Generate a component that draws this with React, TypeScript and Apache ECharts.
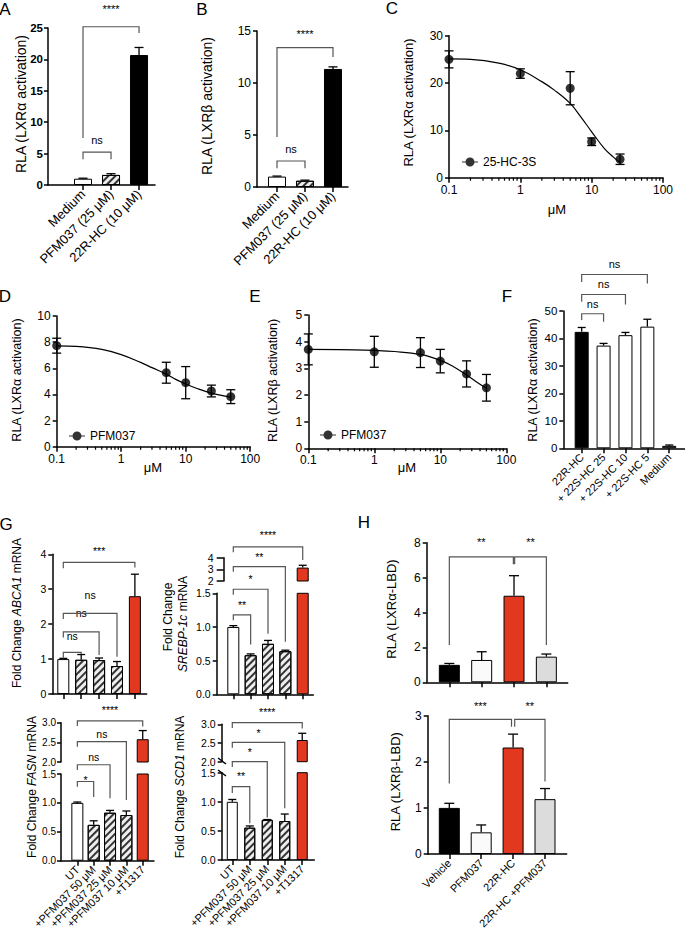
import React, { useEffect, useRef } from "react";
import * as echarts from "echarts";

const FONT = "Liberation Sans, Arial, Helvetica, sans-serif";
const RED = "#e2381f";

// ---------- Panel A ----------
const A_CATEGORIES = ["Medium", "PFM037 (25 μM)", "22R-HC (10 μM)"];
const A_VALUES = [1.0, 1.6, 20.7];
const A_ERRORS = [0.08, 0.2, 1.2];
// [from, to, top, leftLegEnd, rightLegEnd, labelY]
const A_BRACKETS = [
  [0, 1, 5.25, 4.1, 4.1, 7.2],
  [0, 2, 25.2, 7.5, 24.2, 28.0],
];
const A_SIG = ["ns", "****"];

// ---------- Panel B ----------
const B_CATEGORIES = ["Medium", "PFM037 (25 μM)", "22R-HC (10 μM)"];
const B_VALUES = [1.0, 0.6, 11.35];
const B_ERRORS = [0.05, 0.06, 0.2];
const B_BRACKETS = [
  [0, 1, 2.5, 1.8, 1.8, 3.65],
  [0, 2, 13.4, 4.8, 12.5, 14.7],
];
const B_SIG = ["ns", "****"];

// ---------- Panel C ----------
const C_DOSE = [0.1, 1, 5, 10, 25];
const C_MEAN = [25.0, 22.0, 18.9, 7.6, 3.9];
const C_ERR = [1.8, 1.0, 3.5, 0.8, 1.1];
const C_FIT_DOSE = [0.1, 0.2, 0.5, 1, 2, 3, 5, 7, 10, 15, 20, 25];
const C_FIT_VALUE = [25.1, 25.0, 24.2, 22.8, 20.3, 18.5, 15.7, 12.9, 9.7, 6.2, 4.4, 3.2];

// ---------- Panel D ----------
const D_DOSE = [0.1, 5, 10, 25, 50];
const D_MEAN = [7.73, 5.66, 4.9, 4.26, 3.83];
const D_ERR = [0.57, 0.8, 1.23, 0.45, 0.53];
const D_FIT_DOSE = [0.1, 0.2, 0.5, 1, 2, 3, 5, 7, 10, 15, 25, 50];
const D_FIT_VALUE = [7.72, 7.68, 7.45, 7.05, 6.45, 6.05, 5.55, 5.15, 4.8, 4.45, 4.1, 3.8];

// ---------- Panel E ----------
const E_DOSE = [0.1, 1, 5, 10, 25, 50];
const E_MEAN = [3.71, 3.62, 3.59, 3.27, 2.79, 2.27];
const E_ERR = [0.58, 0.58, 0.56, 0.44, 0.49, 0.5];
const E_FIT_DOSE = [0.1, 0.5, 1, 2, 5, 10, 15, 25, 35, 50];
const E_FIT_VALUE = [3.71, 3.69, 3.67, 3.63, 3.52, 3.3, 3.1, 2.75, 2.5, 2.25];

const LOG_MINOR = [0.2, 0.3, 0.4, 0.5, 0.6, 0.7, 0.8, 0.9, 2, 3, 4, 5, 6, 7, 8, 9, 20, 30, 40, 50, 60, 70, 80, 90];

// ---------- Panel F ----------
const F_CATEGORIES = ["22R-HC", "+ 22S-HC 25", "+ 22S-HC 10", "+ 22S-HC 5", "Medium"];
const F_VALUES = [42.4, 37.4, 41.2, 44.3, 0.9];
const F_ERRORS = [1.6, 0.8, 1.0, 2.7, 0.3];
const F_BRACKETS = [
  [0, 1, 49.0, 46.7, 46.1, 52.6],
  [0, 2, 56.0, 53.4, 52.4, 59.8],
  [0, 3, 63.3, 60.6, 60.0, 67.0],
];
const F_SIG = ["ns", "ns", "ns"];

// ---------- Panel G ----------
const G_CATEGORIES = ["UT", "+PFM037 50 μM", "+PFM037 25 μM", "+PFM037 10 μM", "+T1317"];
const ABCA1_VALUES = [1.0, 0.98, 0.97, 0.8, 2.8];
const ABCA1_ERRORS = [0.02, 0.15, 0.06, 0.13, 0.63];
const ABCA1_BRACKETS = [
  [0, 1, 1.19, 1.02, 1.14, 1.67],
  [0, 2, 1.78, 1.62, 1.12, 2.31],
  [0, 3, 2.31, 2.15, 1.07, 2.84],
  [0, 4, 3.77, 3.6, 3.62, 4.1],
];
const ABCA1_SIG = ["ns", "ns", "ns", "***"];

const SREBP_VALUES = [1.0, 0.58, 0.75, 0.64, 3.15];
const SREBP_ERRORS = [0.02, 0.02, 0.05, 0.015, 0.2];
const SREBP_BRACKETS = [
  [0, 1, 1.18, 1.1, 0.74, 1.33],
  [0, 2, 1.56, 1.48, 0.9, 1.71],
  [0, 3, 1.896, 1.82, 0.78, 2.04],
  [0, 4, 2.19, 2.11, 1.995, 2.36],
];
const SREBP_SIG = ["**", "*", "**", "****"];

const FASN_VALUES = [1.0, 0.62, 0.83, 0.79, 2.58];
const FASN_ERRORS = [0.015, 0.07, 0.04, 0.07, 0.22];
const FASN_BRACKETS = [
  [0, 1, 1.37, 1.28, 1.1, 1.4],
  [0, 2, 1.66, 1.57, 1.08, 1.8],
  [0, 3, 2.06, 1.97, 1.05, 2.2],
  [0, 4, 2.42, 2.33, 2.32, 2.6],
];
const FASN_SIG = ["*", "ns", "ns", "****"];

const SCD1_VALUES = [1.0, 0.555, 0.69, 0.67, 2.58];
const SCD1_ERRORS = [0.04, 0.03, 0.005, 0.12, 0.18];
const SCD1_BRACKETS = [
  [0, 1, 1.26, 1.15, 0.63, 1.44],
  [0, 2, 1.69, 1.6, 0.73, 1.86],
  [0, 3, 2.02, 1.93, 0.89, 2.18],
  [0, 4, 2.36, 2.27, 2.26, 2.55],
];
const SCD1_SIG = ["**", "*", "*", "****"];

// ---------- Panel H ----------
const H_CATEGORIES = ["Vehicle", "PFM037", "22R-HC", "22R-HC +PFM037"];
const H_ALPHA_VALUES = [1.0, 1.28, 4.96, 1.47];
const H_ALPHA_ERRORS = [0.08, 0.47, 1.15, 0.15];
const H_ALPHA_BRACKETS = [
  [0, 1.98, 7.19, 2.14, 6.76, 8.04],
  [2.02, 3, 7.19, 6.76, 2.14, 8.04],
];
const H_ALPHA_SIG = ["**", "**"];
const H_BETA_VALUES = [1.0, 0.47, 2.31, 1.19];
const H_BETA_ERRORS = [0.1, 0.16, 0.29, 0.23];
const H_BETA_BRACKETS = [
  [0, 1.95, 2.92, 1.53, 2.76, 3.22],
  [2.05, 3, 2.92, 2.76, 1.57, 3.22],
];
const H_BETA_SIG = ["***", "**"];

const AX = { color: "#000", width: 1.5 };
const BORDER = { borderColor: "#000", borderWidth: 1 };
const WHITE = { color: "#ffffff", ...BORDER };
const OFFWHITE = { color: "#fafafa", ...BORDER };
const BLACK = { color: "#000000", ...BORDER };
const LIGHTGRAY = { color: "#dcdcdc", ...BORDER };
const DARKGRAY = { color: "#555555", ...BORDER };
const REDBAR = { color: RED, ...BORDER };
const HATCH = {
  color: "#eeeeee",
  ...BORDER,
  decal: {
    symbol: "rect",
    symbolSize: 1,
    dashArrayX: [1, 0],
    dashArrayY: [1.4, 2.2],
    rotation: -Math.PI / 4,
    color: "#333333",
  },
};

const LEG_ICON =
  "path://M0,3.9L16,3.9L16,5.1L0,5.1Z M12.5,4.5A4.5,4.5,0,1,1,3.5,4.5A4.5,4.5,0,1,1,12.5,4.5Z";

function buildOption() {
  const grid: any[] = [];
  const xAxis: any[] = [];
  const yAxis: any[] = [];
  const series: any[] = [];
  const legend: any[] = [];
  const graphic: any[] = [];

  const addGrid = (r: any, x: any, y: any) => {
    const i = grid.length;
    grid.push({ ...r, containLabel: false });
    xAxis.push({ gridIndex: i, ...x });
    yAxis.push({ gridIndex: i, ...y });
    return i;
  };

  const catX = (names: string[], min: number, max: number, labels: boolean, fontSize: number, show = true) => {
    const pos = names.map((_, k) => k);
    return {
      type: "value",
      min,
      max,
      show,
      splitLine: { show: false },
      axisLine: { show: true, onZero: false, lineStyle: AX },
      axisTick: { show: true, length: 5, lineStyle: AX, customValues: pos },
      axisLabel: {
        show: labels,
        customValues: pos,
        rotate: 45,
        fontSize,
        color: "#000",
        fontFamily: FONT,
        margin: 7,
        formatter: (v: number) => names[Math.round(v)] ?? "",
      },
    };
  };

  const valY = (min: number, max: number, interval: number, fontSize: number, fmt?: any, extra: any = {}) => ({
    type: "value",
    min,
    max,
    interval,
    splitLine: { show: false },
    axisLine: { show: true, onZero: false, lineStyle: AX },
    axisTick: { show: true, length: 4, lineStyle: AX, ...(extra.tick || {}) },
    axisLabel: {
      fontSize,
      color: "#000",
      fontFamily: FONT,
      margin: extra.margin ?? 6,
      fontWeight: extra.bold ? "bold" : "normal",
      formatter: fmt,
    },
    offset: extra.offset ?? 0,
  });

  const logX = (fontSize: number) => ({
    type: "log",
    logBase: 10,
    min: 0.1,
    max: 100,
    splitLine: { show: false },
    axisLine: { show: true, onZero: false, lineStyle: AX },
    axisTick: { show: true, length: 5, lineStyle: AX },
    axisLabel: {
      fontSize,
      color: "#000",
      fontFamily: FONT,
      margin: 6,
      formatter: (v: number) => (v < 1 ? v.toFixed(1) : String(Math.round(v))),
    },
  });

  const bars = (gi: number, idx: number[], values: number[], styles: any[], width: number) => {
    series.push({
      type: "bar",
      xAxisIndex: gi,
      yAxisIndex: gi,
      barWidth: width,
      clip: true,
      z: 2,
      data: idx.map((k) => ({ value: [k, values[k]], itemStyle: styles[k] })),
    });
  };

  const errBars = (gi: number, xs: number[], means: number[], errs: number[], cap: number, both: boolean) => {
    series.push({
      type: "custom",
      xAxisIndex: gi,
      yAxisIndex: gi,
      silent: true,
      z: 3,
      encode: { x: 0, y: 1 },
      data: xs.map((x, k) => [x, means[k], errs[k]]),
      renderItem: (params: any, api: any) => {
        const x = api.value(0);
        const m = api.value(1);
        const e = api.value(2);
        const top = api.coord([x, m + e]);
        const bot = api.coord([x, both ? m - e : m]);
        const st = { stroke: "#000", lineWidth: 1.3, fill: "none" };
        const children: any[] = [
          { type: "line", shape: { x1: top[0], y1: top[1], x2: bot[0], y2: bot[1] }, style: st },
          { type: "line", shape: { x1: top[0] - cap / 2, y1: top[1], x2: top[0] + cap / 2, y2: top[1] }, style: st },
        ];
        if (both) {
          children.push({
            type: "line",
            shape: { x1: bot[0] - cap / 2, y1: bot[1], x2: bot[0] + cap / 2, y2: bot[1] },
            style: st,
          });
        }
        return { type: "group", children };
      },
    });
  };

  const brackets = (gi: number, list: number[][], labels: string[], fontSize: number) => {
    series.push({
      type: "custom",
      xAxisIndex: gi,
      yAxisIndex: gi,
      silent: true,
      z: 4,
      encode: { x: 0, y: 2 },
      data: list,
      renderItem: (params: any, api: any) => {
        const x1 = api.value(0);
        const x2 = api.value(1);
        const yt = api.value(2);
        const yl = api.value(3);
        const yr = api.value(4);
        const ylab = api.value(5);
        const a = api.coord([x1, yl]);
        const b = api.coord([x1, yt]);
        const c = api.coord([x2, yt]);
        const d = api.coord([x2, yr]);
        const t = api.coord([(x1 + x2) / 2, ylab]);
        return {
          type: "group",
          children: [
            {
              type: "polyline",
              shape: { points: [a, b, c, d] },
              style: { stroke: "#555", fill: "none", lineWidth: 1.2 },
            },
            {
              type: "text",
              x: t[0],
              y: t[1],
              style: {
                text: labels[params.dataIndex],
                fill: "#000",
                fontSize,
                fontFamily: FONT,
                align: "center",
                verticalAlign: "middle",
                textAlign: "center",
                textVerticalAlign: "middle",
              },
            },
          ],
        };
      },
    });
  };

  const doseResponse = (
    gi: number,
    name: string,
    dose: number[],
    mean: number[],
    err: number[],
    fitDose: number[],
    fitValue: number[]
  ) => {
    series.push({
      type: "line",
      xAxisIndex: gi,
      yAxisIndex: gi,
      smooth: 0.4,
      symbol: "none",
      silent: true,
      z: 2,
      lineStyle: { color: "#000", width: 1.2 },
      data: fitDose.map((d, k) => [d, fitValue[k]]),
    });
    errBars(gi, dose, mean, err, 9, true);
    series.push({
      type: "scatter",
      name,
      xAxisIndex: gi,
      yAxisIndex: gi,
      symbolSize: 9,
      z: 5,
      itemStyle: { color: "#000" },
      data: dose.map((d, k) => [d, mean[k]]),
    });
    series.push({
      type: "custom",
      xAxisIndex: gi,
      yAxisIndex: gi,
      silent: true,
      z: 3,
      data: LOG_MINOR.map((v) => [v, 0]),
      renderItem: (params: any, api: any) => {
        const p = api.coord([api.value(0), api.value(1)]);
        return {
          type: "line",
          shape: { x1: p[0], y1: p[1], x2: p[0], y2: p[1] + 3 },
          style: { stroke: "#000", lineWidth: 1.2 },
        };
      },
    });
  };

  const addLegend = (name: string, left: number, top: number) => {
    legend.push({
      data: [{ name, icon: LEG_ICON }],
      left,
      top,
      padding: 0,
      itemWidth: 16,
      itemHeight: 9,
      selectedMode: false,
      textStyle: { fontSize: 12, fontFamily: FONT, color: "#000" },
    });
  };

  const text = (t: string, x: number, y: number, fontSize: number, rotate = false, rich?: any) => {
    graphic.push({
      type: "text",
      x,
      y,
      rotation: rotate ? Math.PI / 2 : 0,
      silent: true,
      style: {
        text: t,
        fill: "#000",
        fontSize,
        fontFamily: FONT,
        align: "center",
        verticalAlign: "middle",
        textAlign: "center",
        textVerticalAlign: "middle",
        rich,
      },
    });
  };
  const italic = (fs: number) => ({ i: { fontStyle: "italic", fontSize: fs, fontFamily: FONT, fill: "#000" } });

  // ---- A ----
  const gA = addGrid(
    { left: 48, top: 28, width: 107, height: 157 },
    catX(A_CATEGORIES, -1.25, 2.57, true, 13),
    valY(0, 25, 5, 11.5, undefined, { bold: true, margin: 5 })
  );
  bars(gA, [0, 1, 2], A_VALUES, [WHITE, HATCH, BLACK], 18);
  errBars(gA, [0, 1, 2], A_VALUES, A_ERRORS, 9, false);
  brackets(gA, A_BRACKETS, A_SIG, 11);

  // ---- B ----
  const gB = addGrid(
    { left: 257, top: 31, width: 91, height: 156 },
    catX(B_CATEGORIES, -0.714, 2.536, true, 13),
    valY(0, 15, 5, 12)
  );
  bars(gB, [0, 1, 2], B_VALUES, [WHITE, HATCH, BLACK], 18);
  errBars(gB, [0, 1, 2], B_VALUES, B_ERRORS, 9, false);
  brackets(gB, B_BRACKETS, B_SIG, 11);

  // ---- C ----
  const gC = addGrid({ left: 449, top: 35.7, width: 214, height: 142 }, logX(12), valY(0, 30, 10, 12));
  doseResponse(gC, "25-HC-3S", C_DOSE, C_MEAN, C_ERR, C_FIT_DOSE, C_FIT_VALUE);
  addLegend("25-HC-3S", 462, 156);

  // ---- D ----
  const gD = addGrid({ left: 56.7, top: 316, width: 193.5, height: 130.7 }, logX(12), valY(0, 10, 2, 12));
  doseResponse(gD, "PFM037", D_DOSE, D_MEAN, D_ERR, D_FIT_DOSE, D_FIT_VALUE);
  addLegend("PFM037", 69, 430);

  // ---- E ----
  const gE = addGrid({ left: 308.3, top: 315, width: 198, height: 133.3 }, logX(12), valY(0, 5, 1, 12));
  doseResponse(gE, "PFM037", E_DOSE, E_MEAN, E_ERR, E_FIT_DOSE, E_FIT_VALUE);
  addLegend("PFM037", 320, 429);

  // ---- F ----
  const gF = addGrid(
    { left: 563.3, top: 311, width: 121.7, height: 137.3 },
    catX(F_CATEGORIES, -0.84, 4.72, true, 11),
    valY(0, 50, 10, 11.5)
  );
  bars(gF, [0, 1, 2, 3, 4], F_VALUES, [BLACK, WHITE, WHITE, WHITE, DARKGRAY], 14);
  errBars(gF, [0, 1, 2, 3, 4], F_VALUES, F_ERRORS, 8, false);
  brackets(gF, F_BRACKETS, F_SIG, 11);

  // ---- G: ABCA1 ----
  const G_STYLES = [WHITE, HATCH, HATCH, HATCH, REDBAR];
  const fmt1 = (v: number) => v.toFixed(1);
  const gG1 = addGrid(
    { left: 52.3, top: 554.3, width: 94.4, height: 139.7 },
    catX(G_CATEGORIES, -0.615, 4.66, false, 11),
    valY(0, 4, 1, 10.5)
  );
  bars(gG1, [0, 1, 2, 3, 4], ABCA1_VALUES, G_STYLES, 12);
  errBars(gG1, [0, 1, 2, 3, 4], ABCA1_VALUES, ABCA1_ERRORS, 8, false);
  brackets(gG1, ABCA1_BRACKETS, ABCA1_SIG, 10.5);

  // ---- G: SREBP-1c (broken axis) ----
  const gG2 = addGrid(
    { left: 216.7, top: 593.3, width: 96.6, height: 101 },
    catX(G_CATEGORIES, -0.957, 4.61, false, 11),
    valY(0, 1.5, 0.5, 10.5, fmt1)
  );
  const gG2u = addGrid(
    { left: 216.7, top: 557.7, width: 96.6, height: 23.3 },
    catX(G_CATEGORIES, -0.957, 4.61, false, 11, false),
    valY(2, 4, 1, 10.5, undefined, { offset: -7, margin: 10, tick: { length: 7 } })
  );
  bars(gG2, [0, 1, 2, 3, 4], SREBP_VALUES, G_STYLES, 12);
  bars(gG2u, [4], SREBP_VALUES, G_STYLES, 12);
  errBars(gG2, [0, 1, 2, 3], SREBP_VALUES.slice(0, 4), SREBP_ERRORS.slice(0, 4), 8, false);
  errBars(gG2u, [4], SREBP_VALUES.slice(4), SREBP_ERRORS.slice(4), 8, false);
  brackets(gG2, SREBP_BRACKETS, SREBP_SIG, 10.5);

  // ---- G: FASN (broken axis) ----
  const gG3 = addGrid(
    { left: 61, top: 774, width: 93, height: 86.7 },
    catX(G_CATEGORIES, -1.0, 4.69, true, 11),
    valY(0, 1.5, 0.5, 10, fmt1, { margin: 5 })
  );
  const gG3u = addGrid(
    { left: 61, top: 722.7, width: 93, height: 39.3 },
    catX(G_CATEGORIES, -1.0, 4.69, false, 11, false),
    valY(2, 3, 0.5, 10, fmt1, { margin: 5 })
  );
  bars(gG3, [0, 1, 2, 3, 4], FASN_VALUES, G_STYLES, 12);
  bars(gG3u, [4], FASN_VALUES, G_STYLES, 12);
  errBars(gG3, [0, 1, 2, 3], FASN_VALUES.slice(0, 4), FASN_ERRORS.slice(0, 4), 8, false);
  errBars(gG3u, [4], FASN_VALUES.slice(4), FASN_ERRORS.slice(4), 8, false);
  brackets(gG3, FASN_BRACKETS, FASN_SIG, 10.5);

  // ---- G: SCD1 (broken axis) ----
  const gG4 = addGrid(
    { left: 221.7, top: 772.7, width: 92.6, height: 87.3 },
    catX(G_CATEGORIES, -0.606, 4.69, true, 11),
    valY(0, 1.5, 0.5, 10.5, fmt1)
  );
  const gG4u = addGrid(
    { left: 221.7, top: 724.3, width: 92.6, height: 37.4 },
    catX(G_CATEGORIES, -0.606, 4.69, false, 11, false),
    valY(2, 3, 0.5, 10.5, fmt1)
  );
  bars(gG4, [0, 1, 2, 3, 4], SCD1_VALUES, G_STYLES, 11);
  bars(gG4u, [4], SCD1_VALUES, G_STYLES, 11);
  errBars(gG4, [0, 1, 2, 3], SCD1_VALUES.slice(0, 4), SCD1_ERRORS.slice(0, 4), 8, false);
  errBars(gG4u, [4], SCD1_VALUES.slice(4), SCD1_ERRORS.slice(4), 8, false);
  brackets(gG4, SCD1_BRACKETS, SCD1_SIG, 10.5);

  // ---- H ----
  const H_STYLES = [BLACK, OFFWHITE, REDBAR, LIGHTGRAY];
  const gH1 = addGrid(
    { left: 426.7, top: 542.7, width: 141, height: 139.6 },
    catX(H_CATEGORIES, -0.7, 3.66, false, 11),
    valY(0, 8, 2, 12)
  );
  bars(gH1, [0, 1, 2, 3], H_ALPHA_VALUES, H_STYLES, 21);
  errBars(gH1, [0, 1, 2, 3], H_ALPHA_VALUES, H_ALPHA_ERRORS, 10, false);
  brackets(gH1, H_ALPHA_BRACKETS, H_ALPHA_SIG, 11);

  const gH2 = addGrid(
    { left: 427.7, top: 715.7, width: 139, height: 138.3 },
    catX(H_CATEGORIES, -0.677, 3.68, true, 11),
    valY(0, 3, 1, 12)
  );
  bars(gH2, [0, 1, 2, 3], H_BETA_VALUES, H_STYLES, 21);
  errBars(gH2, [0, 1, 2, 3], H_BETA_VALUES, H_BETA_ERRORS, 10, false);
  brackets(gH2, H_BETA_BRACKETS, H_BETA_SIG, 11);

  // ---- panel letters ----
  text("A", 5, 9, 17);
  text("B", 202, 9, 17);
  text("C", 392, 8.5, 17);
  text("D", 5, 296, 17);
  text("E", 255, 296, 17);
  text("F", 507, 296, 17);
  text("G", 6, 524, 17);
  text("H", 364, 522.5, 17);

  // ---- axis titles ----
  text("RLA (LXRα activation)", 20.5, 104, 14, true);
  text("RLA (LXRβ activation)", 207, 106, 14, true);
  text("RLA (LXRα activation)", 408.3, 102.5, 13, true);
  text("RLA (LXRα activation)", 17, 380, 12.5, true);
  text("RLA (LXRβ activation)", 273, 380.5, 12.5, true);
  text("RLA (LXRα activation)", 533.3, 380, 12.5, true);
  text("Fold Change {i|ABCA1} mRNA", 17, 613, 12, true, italic(12));
  text("Fold Change", 168, 617, 12, true);
  text("{i|SREBP-1c} mRNA", 183, 624, 12, true, italic(12));
  text("Fold Change {i|FASN} mRNA", 32, 787, 12, true, italic(12));
  text("Fold Change {i|SCD1} mRNA", 180, 787, 12, true, italic(12));
  text("RLA (LXRα-LBD)", 391.7, 609, 13, true);
  text("RLA (LXRβ-LBD)", 395, 781.7, 13, true);
  text("μM", 557, 209, 13);
  text("μM", 153, 467, 13);
  text("μM", 407, 467, 13);

  // ---- axis break marks (SCD1) ----
  const brk = { stroke: "#000", lineWidth: 1.5 };
  graphic.push({ type: "line", silent: true, shape: { x1: 218, y1: 758, x2: 226, y2: 764 }, style: brk });
  graphic.push({ type: "line", silent: true, shape: { x1: 218, y1: 770, x2: 226, y2: 776 }, style: brk });

  return {
    animation: false,
    backgroundColor: "#ffffff",
    textStyle: { fontFamily: FONT },
    grid,
    xAxis,
    yAxis,
    series,
    legend,
    graphic,
  };
}

export default function App() {
  const ref = useRef<HTMLDivElement>(null);
  useEffect(() => {
    document.body.style.margin = "0";
    const chart = echarts.init(ref.current!, null, { renderer: "svg" });
    chart.setOption(buildOption() as any);
    return () => chart.dispose();
  }, []);
  return <div ref={ref} style={{ width: 685, height: 937 }} />;
}
